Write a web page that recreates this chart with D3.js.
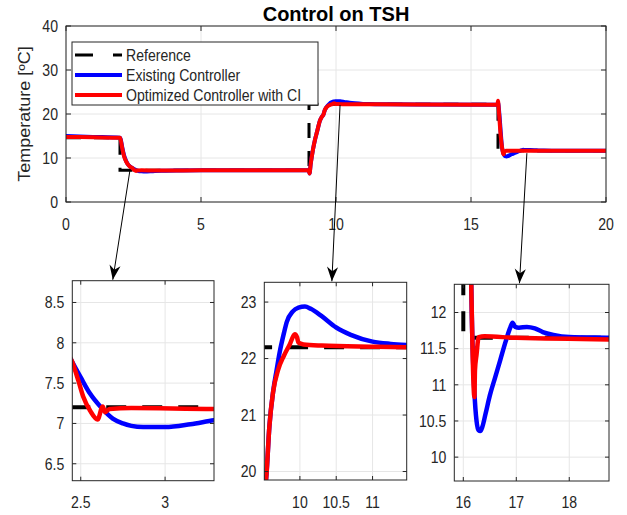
<!DOCTYPE html>
<html><head><meta charset="utf-8">
<script src="https://cdn.jsdelivr.net/npm/d3@7/dist/d3.min.js"></script>
<style>body{margin:0;background:#fff}svg{display:block}</style></head>
<body><svg id="c" width="627" height="515"></svg>
<script>
// ---------------- data ----------------
const chartTitle = "Control on TSH";
const yAxisLabel = "Temperature [ºC]";
const seriesNames = ["Reference", "Existing Controller", "Optimized Controller with CI"];
const seriesColors = ["#000000", "#0000ff", "#ff0000"];

const referenceSignal = [[0,14.6],[2,14.6],[2,7.2],[9,7.2],[9,22.2],[16,22.2],[16,11.65],[20,11.65]];

const existingController = [
  [0,15.0],[1,14.8],[2.0,14.6],[2.03,14.2],[2.08,12.5],[2.15,10.6],[2.22,9.4],[2.3,8.5],[2.38,8.05],
  [2.45,7.76],[2.5,7.57],[2.555,7.37],[2.62,7.2],[2.69,7.06],[2.75,7.0],[2.8,6.97],[2.87,6.955],
  [3.0,6.955],[3.15,6.99],[3.29,7.04],[3.6,7.1],[4.2,7.16],[5,7.2],[8.98,7.2],[9.02,6.5],[9.06,8.5],
  [9.15,12.0],[9.22,14.1],[9.3,16.0],[9.41,18.6],[9.47,19.3],[9.54,19.95],[9.58,20.8],[9.63,21.4],
  [9.68,21.8],[9.72,22.1],[9.78,22.45],[9.82,22.65],[9.9,22.83],[9.98,22.9],[10.07,22.92],[10.15,22.88],
  [10.3,22.75],[10.5,22.55],[10.7,22.42],[11.0,22.3],[11.25,22.26],[11.47,22.24],[12,22.22],[15.98,22.1],
  [16.0,22.6],[16.05,20.0],[16.1,16.0],[16.15,12.4],[16.21,10.9],[16.25,10.5],[16.29,10.37],[16.32,10.36],
  [16.36,10.42],[16.42,10.6],[16.5,10.85],[16.6,11.1],[16.7,11.35],[16.8,11.6],[16.88,11.78],[16.93,11.86],
  [16.98,11.8],[17.05,11.79],[17.2,11.8],[17.35,11.78],[17.5,11.73],[17.7,11.69],[18.0,11.66],
  [18.75,11.65],[20,11.63]
];

const optimizedController = [
  [0,14.8],[1,14.7],[2.0,14.6],[2.03,14.0],[2.08,12.3],[2.15,10.4],[2.22,9.3],[2.3,8.5],[2.38,8.0],
  [2.45,7.76],[2.486,7.53],[2.515,7.33],[2.555,7.16],[2.6,7.05],[2.63,7.21],[2.645,7.14],[2.67,7.18],
  [2.8,7.19],[3.29,7.18],[5,7.19],[8.98,7.2],[9.02,6.5],[9.06,8.5],[9.15,12.0],[9.22,14.1],[9.3,16.0],
  [9.41,18.6],[9.47,19.3],[9.54,19.95],[9.58,20.8],[9.63,21.4],[9.7,21.8],[9.78,22.05],[9.86,22.25],
  [9.93,22.43],[9.96,22.38],[9.98,22.28],[10.05,22.25],[10.3,22.23],[11.0,22.21],[11.47,22.2],
  [15.98,22.1],[16.0,23.0],[16.04,20.0],[16.1,15.0],[16.15,12.4],[16.21,10.83],[16.22,11.2],
  [16.25,11.42],[16.29,11.66],[16.4,11.67],[17,11.65],[20,11.62]
];

const mainXTicks = [0, 5, 10, 15, 20];
const mainYTicks = [0, 10, 20, 30, 40];
const zoomXDomains = [[2.45,3.29],[9.51,11.47],[15.83,18.75]];
const zoomYDomains = [[6.29,8.77],[19.85,23.35],[9.67,12.39]];
const zoomXTicks = [[2.5,3],[10,10.5,11],[16,17,18]];
const zoomYTicks = [[6.5,7,7.5,8,8.5],[20,21,22,23],[10,10.5,11,11.5,12]];
const arrowFrom = [[2.37,7.27],[10.15,22.05],[17.07,11.1]];   // points on the main chart (t, value)
const arrowToX = [2.69,10.44,17.06];                           // x position on the zoom panel's top edge

// ---------------- layout ----------------
const FONT = "'Liberation Sans', Arial, sans-serif";
const TXT = "#262626";
const SX = 0.88; // horizontal squeeze of the original picture's text
const mainBox = {l:66, r:606, t:26, b:202};
const zoomBoxes = [
  {l:72.3, r:214, t:280.7, b:480.7},
  {l:264.3, r:406.7, t:282.3, b:480},
  {l:454.3, r:609, t:284.3, b:481}
];

const svg = d3.select("#c");
const defs = svg.append("defs");
defs.append("marker").attr("id","ah").attr("markerUnits","userSpaceOnUse")
  .attr("markerWidth",20).attr("markerHeight",20).attr("viewBox","-16 -8 18 16")
  .attr("refX",0).attr("refY",0).attr("orient","auto")
  .append("path").attr("d","M0,0 L-13,-5 L-9,0 L-13,5 Z").attr("fill","#000");

function txt(g, x, y, s, o={}) {
  const sx = o.sx === undefined ? SX : o.sx;
  const t = g.append("text")
    .attr("transform", `translate(${x},${y}) ${o.rot?`rotate(${o.rot})`:''} scale(${o.rot?1:sx},${o.rot?sx:1})`)
    .attr("text-anchor", o.anchor||"middle")
    .attr("font-family", FONT).attr("font-size", o.size||16)
    .attr("font-weight", o.weight||"normal").attr("fill", o.fill||TXT).text(s);
  return t;
}

function panel(box, xd, yd, xt, yt, opt, id) {
  const x = d3.scaleLinear().domain(xd).range([box.l, box.r]);
  const y = d3.scaleLinear().domain(yd).range([box.b, box.t]);
  const g = svg.append("g");
  defs.append("clipPath").attr("id", id).append("rect")
    .attr("x", box.l).attr("y", box.t).attr("width", box.r-box.l).attr("height", box.b-box.t);
  g.append("rect").attr("x",box.l).attr("y",box.t).attr("width",box.r-box.l).attr("height",box.b-box.t).attr("fill","#fff");
  // grid
  const gg = g.append("g").attr("stroke","#e6e6e6").attr("stroke-width",1);
  xt.forEach(v=>gg.append("line").attr("x1",x(v)).attr("x2",x(v)).attr("y1",box.t).attr("y2",box.b));
  yt.forEach(v=>gg.append("line").attr("y1",y(v)).attr("y2",y(v)).attr("x1",box.l).attr("x2",box.r));
  // data
  const dg = g.append("g").attr("clip-path",`url(#${id})`);
  const lineRef = d3.line().x(d=>x(d[0])).y(d=>y(d[1]));
  const lineC = d3.line().x(d=>x(d[0])).y(d=>y(d[1])).curve(d3.curveMonotoneX);
  dg.append("path").attr("d", lineRef(referenceSignal)).attr("fill","none")
    .attr("stroke",seriesColors[0]).attr("stroke-width",opt.refW).attr("stroke-dasharray",opt.dash);
  dg.append("path").attr("d", lineC(existingController)).attr("fill","none")
    .attr("stroke",seriesColors[1]).attr("stroke-width",opt.lw).attr("stroke-linejoin","round").attr("stroke-linecap","round");
  dg.append("path").attr("d", lineC(optimizedController)).attr("fill","none")
    .attr("stroke",seriesColors[2]).attr("stroke-width",opt.lw).attr("stroke-linejoin","round").attr("stroke-linecap","round");
  // box + ticks
  const bg = g.append("g").attr("stroke","#262626").attr("stroke-width",1).attr("fill","none");
  bg.append("rect").attr("x",box.l).attr("y",box.t).attr("width",box.r-box.l).attr("height",box.b-box.t);
  const tl = opt.tick;
  xt.forEach(v=>{
    bg.append("line").attr("x1",x(v)).attr("x2",x(v)).attr("y1",box.b).attr("y2",box.b-tl);
    bg.append("line").attr("x1",x(v)).attr("x2",x(v)).attr("y1",box.t).attr("y2",box.t+tl);
  });
  yt.forEach(v=>{
    bg.append("line").attr("y1",y(v)).attr("y2",y(v)).attr("x1",box.l).attr("x2",box.l+tl);
    bg.append("line").attr("y1",y(v)).attr("y2",y(v)).attr("x1",box.r).attr("x2",box.r-tl);
  });
  // labels
  xt.forEach(v=>txt(g, x(v), opt.xLabY, String(v), {size:opt.fs}));
  yt.forEach(v=>txt(g, box.l-opt.yGap, y(v)+opt.fs*0.36, String(v), {size:opt.fs, anchor:"end"}));
  return {x, y};
}

const main = panel(mainBox, [0,20], [0,40], mainXTicks, mainYTicks,
  {lw:4, refW:3, dash:"15,13", tick:5, fs:16, xLabY:230, yGap:8}, "cm");

const zooms = zoomBoxes.map((b,i)=>panel(b, zoomXDomains[i], zoomYDomains[i], zoomXTicks[i], zoomYTicks[i],
  {lw:4.5, refW:4, dash:"20,16", tick:4, fs:16, xLabY:508, yGap:8}, "cz"+i));

// title and y label
txt(svg, (mainBox.l+mainBox.r)/2, 20.5, chartTitle, {size:20, weight:"bold", fill:"#000", sx:1});
txt(svg, 30, (mainBox.t+mainBox.b)/2, yAxisLabel, {size:18, rot:-90});

// legend
const lg = svg.append("g");
lg.append("rect").attr("x",72).attr("y",42).attr("width",246).attr("height",63)
  .attr("fill","#fff").attr("stroke","#262626").attr("stroke-width",1);
seriesNames.forEach((n,i)=>{
  const yy = 55 + i*20;
  lg.append("line").attr("x1",75).attr("x2",122).attr("y1",yy).attr("y2",yy)
    .attr("stroke",seriesColors[i]).attr("stroke-width",i===0?3:4)
    .attr("stroke-dasharray", i===0?"18,20":null);
  txt(lg, 126, yy+5.5, n, {size:16, anchor:"start"});
});

// arrows
arrowFrom.forEach((p,i)=>{
  const z = zooms[i];
  svg.append("line").attr("x1",main.x(p[0])).attr("y1",main.y(p[1]))
    .attr("x2",z.x(arrowToX[i])).attr("y2",zoomBoxes[i].t-1)
    .attr("stroke","#000").attr("stroke-width",1).attr("marker-end","url(#ah)");
});
</script></body></html>
